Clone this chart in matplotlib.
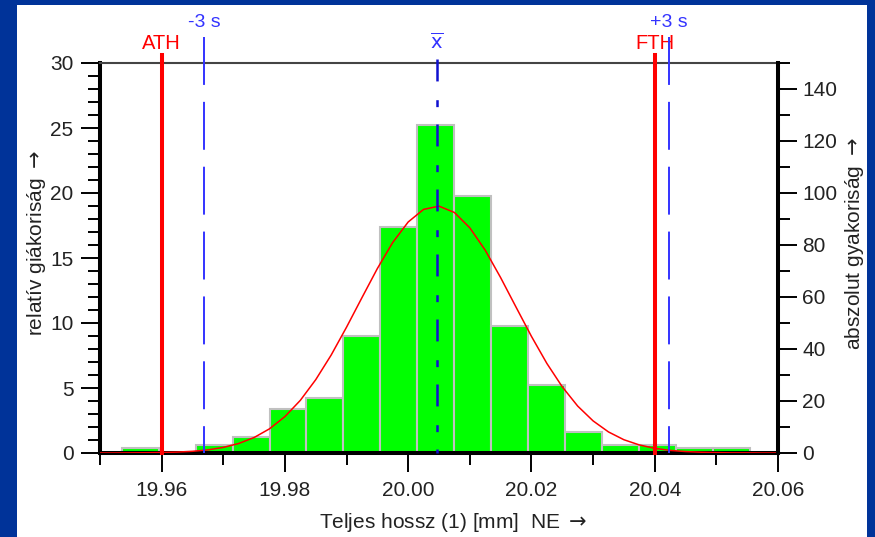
import matplotlib
matplotlib.use("Agg")
import matplotlib.pyplot as plt
from matplotlib.patches import Rectangle
from matplotlib.ticker import MultipleLocator

plt.rcParams['font.family'] = ['Liberation Sans', 'DejaVu Sans']
plt.rcParams['mathtext.fontset'] = 'dejavusans'
plt.rcParams['lines.scale_dashes'] = False

# osztalyok bal szele es szelessege [mm]
bal_szel = [19.9535, 19.9595, 19.9655, 19.9715, 19.9775, 19.9835, 19.9895, 19.9955,
            20.0015, 20.0075, 20.0135, 20.0195, 20.0255, 20.0315, 20.0375, 20.0435, 20.0495]
szelesseg = 0.006
# relativ gyakorisag [%]
rel_gyak = [0.4, 0.0, 0.6, 1.2, 3.4, 4.2, 9.0, 17.4, 25.2, 19.8, 9.8, 5.2, 1.6, 0.6, 0.6, 0.4, 0.4]

# normalis eloszlas gorbe (leolvasva)
gorbe_x = [19.9500, 19.9525, 19.9550, 19.9575, 19.9600, 19.9625, 19.9650, 19.9675, 19.9700,
           19.9725, 19.9750, 19.9775, 19.9800, 19.9825, 19.9850, 19.9875, 19.9900, 19.9925,
           19.9950, 19.9975, 20.0000, 20.0025, 20.0050, 20.0075, 20.0100, 20.0125, 20.0150,
           20.0175, 20.0200, 20.0225, 20.0250, 20.0275, 20.0300, 20.0325, 20.0350, 20.0375,
           20.0400, 20.0425, 20.0450, 20.0475, 20.0500, 20.0525, 20.0550, 20.0575, 20.0600]
gorbe_y = [0.00, 0.00, 0.01, 0.02, 0.04, 0.07, 0.13, 0.24, 0.43,
           0.73, 1.19, 1.86, 2.80, 4.05, 5.64, 7.53, 9.68, 11.95,
           14.19, 16.20, 17.77, 18.74, 18.99, 18.50, 17.32, 15.60, 13.49,
           11.22, 8.97, 6.89, 5.09, 3.61, 2.47, 1.62, 1.02, 0.62,
           0.36, 0.20, 0.11, 0.06, 0.03, 0.01, 0.01, 0.00, 0.00]

ATH = 19.96
FTH = 20.04
atlag = 20.0046
minus3s = 19.9669
plus3s = 20.0423

W, H = 875, 537
fig = plt.figure(figsize=(W / 100, H / 100), dpi=100)
fig.patch.set_facecolor('#003399')
fig.add_artist(Rectangle((17 / W, 0), (867 - 17) / W, (H - 5) / H, transform=fig.transFigure,
                         facecolor='white', edgecolor='none', zorder=-10))

ax = fig.add_axes([100 / W, 1 - 453 / H, 678 / W, 390 / H])
ax.set_facecolor('white')
ax.bar(bal_szel, rel_gyak, width=szelesseg, align='edge', color='#00ff00',
       edgecolor='#c0c0c0', linewidth=1.5, zorder=1)
ax.plot(gorbe_x, gorbe_y, color='red', linewidth=1.1, zorder=3)

ax.set_xlim(19.95, 20.06)
ax.set_ylim(0, 30)

# hatarok
for x in (ATH, FTH):
    ax.plot([x, x], [30.6, 0], color='red', linewidth=2.9, clip_on=False, zorder=4)
for x in (minus3s, plus3s):
    l, = ax.plot([x, x], [32.0, 0], color='#3333ff', linewidth=1.4, clip_on=False, zorder=4)
    l.set_dashes([34.5, 12.2])
l, = ax.plot([atlag, atlag], [30.3, 0], color='#1010d0', linewidth=1.8, clip_on=False, zorder=4)
l.set_dashes([15.8, 13.5, 5, 12.5])

ax.text(ATH, 31.5, 'ATH', color='red', fontsize=14.5, ha='center', va='center')
ax.text(FTH, 31.5, 'FTH', color='red', fontsize=14.5, ha='center', va='center')
ax.text(minus3s, 33.1, '-3 s', color='#3333ff', fontsize=14, ha='center', va='center')
ax.text(plus3s, 33.1, '+3 s', color='#3333ff', fontsize=14, ha='center', va='center')
ax.text(atlag, 31.6, r'$\overline{\mathrm{x}}$', color='#3333ff', fontsize=14,
        ha='center', va='center')

ax.set_xticks([19.96, 19.98, 20.00, 20.02, 20.04, 20.06])
ax.set_xticklabels(['19.96', '19.98', '20.00', '20.02', '20.04', '20.06'])
ax.xaxis.set_minor_locator(MultipleLocator(0.01))
ax.yaxis.set_major_locator(MultipleLocator(5))
ax.yaxis.set_minor_locator(MultipleLocator(1))
ax.tick_params(axis='both', which='major', length=14, width=1.4, color='black',
               labelsize=15, labelcolor='#222222', pad=5)
ax.tick_params(axis='x', which='major', pad=6.5)
ax.tick_params(axis='both', which='minor', length=8.5, width=1.4, color='black')

for s in ('left', 'bottom'):
    ax.spines[s].set_linewidth(2.9)
    ax.spines[s].set_color('black')
ax.spines['right'].set_visible(False)
ax.spines['top'].set_linewidth(1.5)
ax.spines['top'].set_color('#444444')

ax2 = ax.twinx()
ax2.set_ylim(0, 150)
ax2.set_yticks(range(0, 141, 20))
ax2.yaxis.set_minor_locator(MultipleLocator(10))
ax2.tick_params(axis='y', which='major', length=14, width=1.4, color='black',
                labelsize=15, labelcolor='#222222', pad=3.5)
ax2.tick_params(axis='y', which='minor', length=8.5, width=1.4, color='black')
for s in ('left', 'top', 'bottom'):
    ax2.spines[s].set_visible(False)
ax2.spines['right'].set_linewidth(2.9)
ax2.spines['right'].set_color('black')

fig.text(37 / W, 1 - 243 / H, r'relatív giákoriság $\rightarrow$', rotation=90, fontsize=15,
         ha='center', va='center', color='#222222')
fig.text(854 / W, 1 - 244 / H, r'abszolut gyakoriság $\rightarrow$', rotation=90, fontsize=15,
         ha='center', va='center', color='#222222')
fig.text(453 / W, 1 - 522 / H, r'Teljes hossz (1) [mm]  NE $\rightarrow$', fontsize=15,
         ha='center', va='center', color='#222222')

fig.savefig('out.png', dpi=100, facecolor=fig.get_facecolor())
